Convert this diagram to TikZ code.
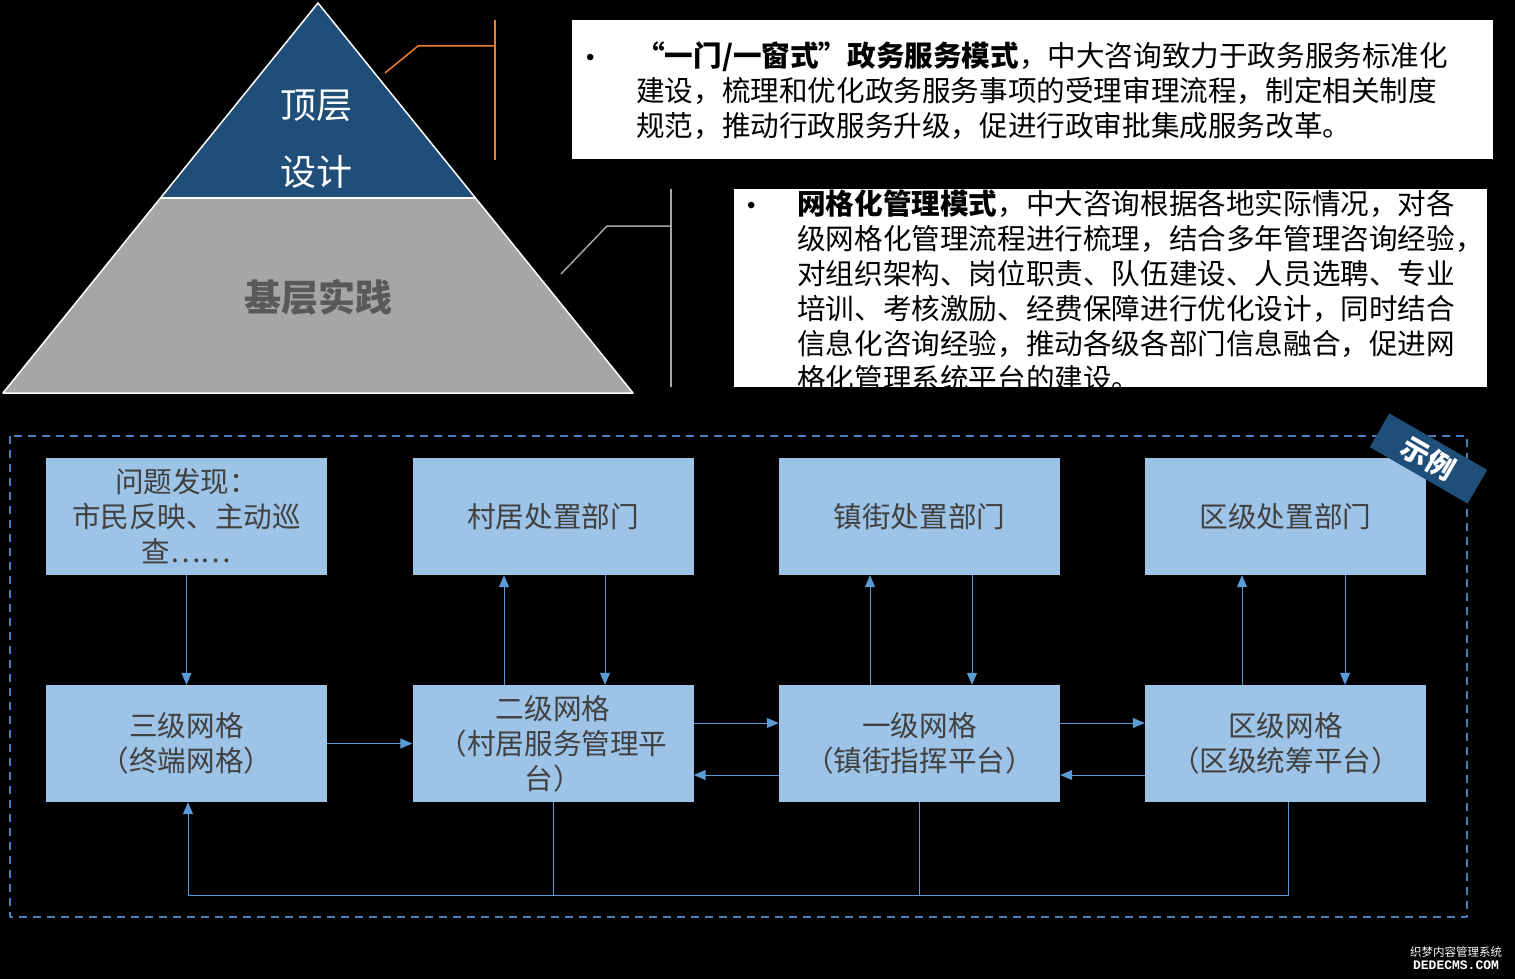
\documentclass[tikz,border=0pt]{standalone}
\usepackage{fontspec}
\setmainfont{Noto Sans CJK SC}
\newfontfamily\wmfont{Liberation Mono}
\newfontfamily\dotfont{Liberation Sans}
\usetikzlibrary{arrows.meta}

\definecolor{navy}{HTML}{1F4E79}
\definecolor{pyrgray}{HTML}{A6A6A6}
\definecolor{basetext}{HTML}{595959}
\definecolor{callorange}{HTML}{ED7D31}
\definecolor{callgray}{HTML}{A5A5A5}
\definecolor{boxblue}{HTML}{9DC3E6}
\definecolor{boxtext}{HTML}{404040}
\definecolor{linkblue}{HTML}{5B9BD5}
\definecolor{dashblue}{HTML}{4A7EBB}

\begin{document}
\begin{tikzpicture}[x=1pt, y=-1pt, line join=round,
  gridbox/.style={fill=boxblue, text=boxtext, minimum width=281pt, minimum height=117pt,
    align=center, inner sep=0pt, font=\fontsize{28.6}{35}\selectfont},
  flow/.style={draw=linkblue, line width=1pt, -{Triangle[length=12pt,width=10pt]}},
  link/.style={draw=linkblue, line width=1pt},
  para/.style={anchor=base west, inner sep=0pt, text=black,
    font=\fontsize{28.6}{35}\selectfont}]

  %% ════ 底色 ════
  \fill[black] (0,0) rectangle (1515,979);

  %% ════ 金字塔 ════
  \fill[pyrgray] (160.5,198) -- (475.5,198) -- (633,393) -- (3,393) -- cycle;
  \fill[navy] (318,3) -- (475.5,198) -- (160.5,198) -- cycle;
  \draw[white, line width=1.5pt] (318,3) -- (633,393) -- (3,393) -- cycle;
  \draw[white, line width=1.5pt] (160.5,198) -- (475.5,198);

  \node[text=white, font=\fontsize{36}{36}\selectfont] (dc1) at (316,106) {顶层};
  \node[text=white, font=\fontsize{36}{36}\selectfont] (dc2) at (316,172) {设计};
  \node[text=basetext, font=\fontsize{37}{37}\selectfont\bfseries] (jc) at (318,297) {基层实践};

  %% ════ 引线 ════
  \draw[callorange, line width=1.5pt] (385,73) -- (418,46) -- (495,46);
  \draw[callorange, line width=1.5pt] (495,20) -- (495,160);
  \draw[callgray, line width=1.5pt] (561,274) -- (607,226) -- (671,226);
  \draw[callgray, line width=1.5pt] (671,189) -- (671,387);

  %% ════ 说明框 ════
  \fill[white] (572,20) rectangle (1493,159);
  \node[para, font=\fontsize{24}{24}\dotfont] (dot1) at (586,66) {•};
  \node[para] (mx1a) at (636,67) {\textbf{“一门/一窗式”政务服务模式}，中大咨询致力于政务服务标准化};
  \node[para] (mx1b) at (636,102) {建设，梳理和优化政务服务事项的受理审理流程，制定相关制度};
  \node[para] (mx1c) at (636,137) {规范，推动行政服务升级，促进行政审批集成服务改革。};

  \fill[white] (734,189) rectangle (1487,387);
  \begin{scope}
    \clip (734,189) rectangle (1487,387);
    \node[para, font=\fontsize{24}{24}\dotfont] (dot2) at (747,213) {•};
    \node[para] (mx2a) at (797,214) {\textbf{网格化管理模式}，中大咨询根据各地实际情况，对各};
    \node[para] (mx2b) at (797,249) {级网格化管理流程进行梳理，结合多年管理咨询经验，};
    \node[para] (mx2c) at (797,284) {对组织架构、岗位职责、队伍建设、人员选聘、专业};
    \node[para] (mx2d) at (797,319) {培训、考核激励、经费保障进行优化设计，同时结合};
    \node[para] (mx2e) at (797,354) {信息化咨询经验，推动各级各部门信息融合，促进网};
    \node[para] (mx2f) at (797,389) {格化管理系统平台的建设。};
  \end{scope}

  %% ════ 示例框 ════
  \draw[dashblue, line width=1.5pt, dash pattern=on 8pt off 6pt] (10,436) rectangle (1467,917);

  %% ════ 网格节点 ════
  \node[gridbox] (wt) at (186.5,516.5) {问题发现：\\市民反映、主动巡\\查……};
  \node[gridbox] (cj) at (553,516.5) {村居处置部门};
  \node[gridbox] (zj) at (919.5,516.5) {镇街处置部门};
  \node[gridbox] (qj) at (1285.5,516.5) {区级处置部门};

  \node[gridbox] (sj) at (186.5,743.5) {三级网格\\（终端网格）};
  \node[gridbox] (ej) at (553,743.5) {二级网格\\（村居服务管理平\\台）};
  \node[gridbox] (yj) at (919.5,743.5) {一级网格\\（镇街指挥平台）};
  \node[gridbox] (qw) at (1285.5,743.5) {区级网格\\（区级统筹平台）};

  % 角标压在框上
  \node[fill=navy, text=white, rotate=-30, minimum width=113pt, minimum height=39pt,
    inner sep=0pt, font=\fontsize{28}{28}\selectfont\bfseries] (tag) at (1428.5,458.5) {示例};

  %% ════ 连线 ════
  \draw[flow] (wt.south) -- (sj.north);
  \draw[flow] (sj.east) -- (ej.west);

  \draw[flow] ([xshift=-49pt]ej.north) -- ([xshift=-49pt]cj.south);
  \draw[flow] ([xshift=52pt]cj.south) -- ([xshift=52pt]ej.north);
  \draw[flow] ([xshift=-49.5pt]yj.north) -- ([xshift=-49.5pt]zj.south);
  \draw[flow] ([xshift=52.5pt]zj.south) -- ([xshift=52.5pt]yj.north);
  \draw[flow] ([xshift=-43.5pt]qw.north) -- ([xshift=-43.5pt]qj.south);
  \draw[flow] ([xshift=59.5pt]qj.south) -- ([xshift=59.5pt]qw.north);

  \draw[flow] ([yshift=20.5pt]ej.east) -- ([yshift=20.5pt]yj.west);
  \draw[flow] ([yshift=-31.5pt]yj.west) -- ([yshift=-31.5pt]ej.east);
  \draw[flow] ([yshift=20.5pt]yj.east) -- ([yshift=20.5pt]qw.west);
  \draw[flow] ([yshift=-31.5pt]qw.west) -- ([yshift=-31.5pt]yj.east);

  % 反馈回路
  \coordinate (fb) at (188,895);
  \draw[link] (ej.south) -- (ej.south |- fb);
  \draw[link] (yj.south) -- (yj.south |- fb);
  \draw[flow] ([xshift=2.5pt]qw.south) -- ([xshift=2.5pt]qw.south |- fb) -- (fb) -- ([xshift=1.5pt]sj.south);

  %% ════ 水印 ════
  \node[text=white, inner sep=0pt, font=\fontsize{11.5}{12}\selectfont] (wm1) at (1456,952) {织梦内容管理系统};
  \node[text=white, inner sep=0pt, font=\fontsize{13}{13}\wmfont\bfseries] (wm2) at (1456,965) {DEDECMS.COM};

  \pgfresetboundingbox
  \path[use as bounding box] (0,0) rectangle (1515,979);
\end{tikzpicture}
\end{document}
